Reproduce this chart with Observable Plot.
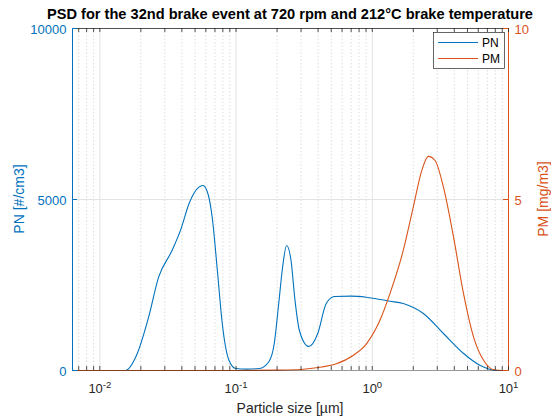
<!DOCTYPE html>
<html><head><meta charset="utf-8">
<script src="https://cdn.jsdelivr.net/npm/d3@7"></script>
<script src="https://cdn.jsdelivr.net/npm/@observablehq/plot@0.6"></script>
<style>
body{margin:0;background:#fff}
#chart{width:551px;height:418px}
</style>
</head><body><div id="chart"></div>
<script>
// ---- data ----
const pnSize  = [0.0063, 0.010, 0.0140, 0.01535, 0.01857, 0.0228, 0.0270, 0.0339, 0.0395, 0.0452, 0.0533, 0.0571, 0.0621, 0.0668, 0.0730, 0.0792, 0.0888, 0.0995, 0.120, 0.148, 0.175, 0.1907, 0.2050, 0.2196, 0.235, 0.2533, 0.270, 0.2917, 0.3418, 0.398, 0.459, 0.5287, 0.700, 0.906, 1.346, 1.688, 2.371, 3.33, 4.68, 6.21, 8.25, 10];
const pnValue = [0,      0,     0,      0,       439,     1558,   2728,   3509,   4150,   4883,   5360,   5409,   5175,   4482,   2900,   1374,   292,    58,     40,    58,    272,   789,    1900,   3020,   3655,  3216,   2100,  1170,   702,    1082,  1959,  2164,   2175,  2143,  2026,  1959,  1667,  1082, 497,  146,  0,    0];
const pmSize  = [0.0063, 0.1, 0.2, 0.3, 0.389, 0.544, 0.722, 0.906, 1.136, 1.346, 1.688, 2.0, 2.31, 2.58, 2.89, 3.33, 3.95, 4.68, 5.55, 6.58, 7.8, 9.0, 10];
const pmValue = [0,      0,   0.01, 0.03, 0.08, 0.195, 0.44, 0.78, 1.46, 2.24, 3.51, 4.78, 5.85, 6.26, 6.14, 5.36, 3.90, 2.24, 0.97, 0.29, 0.02, 0, 0];
const xTicks = [0.01, 0.1, 1, 10];
const leftTicks = [0, 5000, 10000];
const rightTicks = [0, 5, 10];
const xDomain = [0.0063, 10];
const leftMax = 10000, rightMax = 10;

// ---- styling ----
const blue = "#0072BD", orange = "#D95319", axisGray = "#262626";
const font = "'Liberation Sans', Arial, Helvetica, sans-serif";
const W = 551, H = 418, mL = 72, mR = 43, mT = 28, mB = 48;
const plotW = W - mL - mR, plotH = H - mT - mB;
const ratio = leftMax / rightMax;

const pn = pnSize.map((s, i) => ({size: s, value: pnValue[i]}));
const pm = pmSize.map((s, i) => ({size: s, value: pmValue[i] * ratio}));

const minor = [];
for (let e = -3; e <= 0; e++) for (let k = 2; k <= 9; k++) {
  const v = k * Math.pow(10, e);
  if (v > xDomain[0] && v < xDomain[1]) minor.push(v);
}
const majorIn = xTicks.filter(v => v > xDomain[0] && v < xDomain[1]);
const allXTicks = minor.concat(xTicks).filter(v => v >= xDomain[0] && v <= xDomain[1]);

const chart = Plot.plot({
  width: W, height: H,
  marginLeft: mL, marginRight: mR, marginTop: mT, marginBottom: mB,
  style: {fontFamily: font, fontSize: "13px", background: "#fff", overflow: "visible"},
  x: {type: "log", domain: xDomain},
  y: {domain: [0, leftMax]},
  marks: [
    // grid
    Plot.ruleX(minor, {stroke: "#c8c8c8", strokeWidth: 0.6, strokeDasharray: "1.5,2"}),
    Plot.ruleX(majorIn, {stroke: "#e3e3e3", strokeWidth: 1}),
    Plot.ruleY([5000], {stroke: "#e3e3e3", strokeWidth: 1}),
    // curves
    Plot.line(pn, {x: "size", y: "value", stroke: blue, strokeWidth: 1.1, curve: "monotone-x"}),
    Plot.line(pm, {x: "size", y: "value", stroke: orange, strokeWidth: 1.1, curve: "monotone-x"}),
    // axes spines
    Plot.ruleY([leftMax], {stroke: axisGray, strokeWidth: 0.8}),
    Plot.ruleY([0], {stroke: axisGray, strokeWidth: 0.8, strokeOpacity: 0.6}),
    Plot.ruleX([xDomain[0]], {stroke: blue, strokeWidth: 1}),
    Plot.ruleX([xDomain[1]], {stroke: orange, strokeWidth: 1}),
    // inner ticks (x bottom & top)
    Plot.tickX(allXTicks, {x: d => d, stroke: axisGray, strokeWidth: 0.8, insetTop: plotH - 4}),
    Plot.tickX(allXTicks, {x: d => d, stroke: axisGray, strokeWidth: 0.8, insetBottom: plotH - 4}),
    // inner ticks (y left & right)
    Plot.tickY(leftTicks, {y: d => d, stroke: blue, strokeWidth: 1, insetRight: plotW - 5}),
    Plot.tickY(rightTicks.map(d => d * ratio), {y: d => d, stroke: orange, strokeWidth: 1, insetLeft: plotW - 5}),
    // axes
    Plot.axisX({ticks: xTicks, tickSize: 0, tickPadding: 13, label: null, fill: axisGray,
      tickFormat: d => "10^" + Math.round(Math.log10(d))}),
    Plot.axisY({anchor: "left", ticks: leftTicks, tickSize: 0, tickPadding: 6, dy: 1, label: null, fill: blue,
      tickFormat: d => String(d)}),
    Plot.axisY({anchor: "right", ticks: rightTicks.map(d => d * ratio), tickSize: 0, tickPadding: 6, dy: 1, label: null, fill: orange,
      tickFormat: d => String(d / ratio)})
  ]
});

const svg = d3.select(chart);
// superscript exponents on x tick labels
svg.selectAll('g[aria-label="x-axis tick label"] text').each(function() {
  const t = d3.select(this);
  const s = t.text();
  const exp = s.split("^")[1];
  t.text("");
  t.append("tspan").text("10");
  t.append("tspan").attr("dy", "-0.45em").attr("font-size", "9.5px").text(exp);
});

// title and axis labels
svg.append("text").attr("x", mL + plotW / 2).attr("y", 18.5).attr("text-anchor", "middle")
  .attr("font-family", font).attr("font-size", "14.6px").attr("font-weight", "bold").attr("fill", "#000")
  .text("PSD for the 32nd brake event at 720 rpm and 212°C brake temperature");
svg.append("text").attr("x", mL + plotW / 2).attr("y", 413).attr("text-anchor", "middle")
  .attr("font-family", font).attr("font-size", "14px").attr("fill", axisGray)
  .text("Particle size [µm]");
svg.append("text").attr("transform", `translate(24,${mT + plotH / 2}) rotate(-90)`).attr("text-anchor", "middle")
  .attr("font-family", font).attr("font-size", "14px").attr("fill", blue)
  .text("PN [#/cm3]");
svg.append("text").attr("transform", `translate(548,${mT + plotH / 2}) rotate(-90)`).attr("text-anchor", "middle")
  .attr("font-family", font).attr("font-size", "14px").attr("fill", orange)
  .text("PM [mg/m3]");

// legend
const lg = svg.append("g").attr("font-family", font).attr("font-size", "12px").attr("text-anchor", "start");
lg.append("rect").attr("x", 433.5).attr("y", 32.5).attr("width", 71).attr("height", 36)
  .attr("fill", "#fff").attr("stroke", axisGray).attr("stroke-width", 0.7);
[["PN", blue, 42], ["PM", orange, 58]].forEach(([name, c, y]) => {
  lg.append("line").attr("x1", 438).attr("x2", 478).attr("y1", y + 0.5).attr("y2", y + 0.5)
    .attr("stroke", c).attr("stroke-width", 1.1);
  lg.append("text").attr("x", 482).attr("y", y + 4.5).attr("text-anchor", "start").attr("fill", "#000").text(name);
});

document.getElementById("chart").appendChild(chart);
</script>
</body></html>
